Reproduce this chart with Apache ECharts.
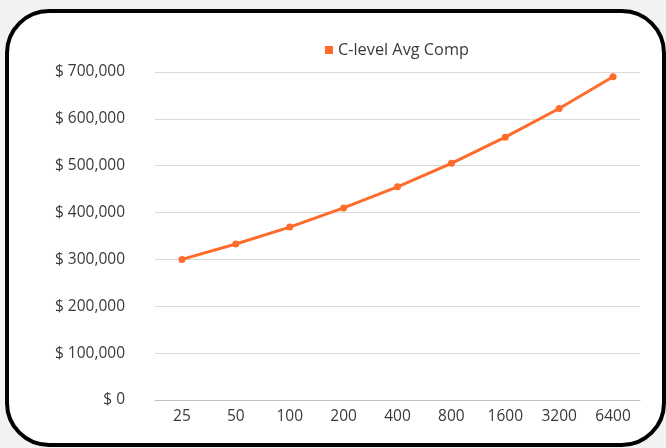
<!DOCTYPE html>
<html>
<head>
<meta charset="utf-8">
<script src="https://cdn.jsdelivr.net/npm/echarts@6/dist/echarts.min.js"></script>
<style>
  html, body { margin: 0; padding: 0; background: #f2f2f2; }
  #frame {
    position: absolute; left: 5px; top: 9px;
    width: 653px; height: 430px;
    border: 4px solid #000; border-radius: 44px;
    background: #fff; overflow: hidden;
  }
  #chart { position: absolute; left: -9px; top: -13px; width: 666px; height: 448px; }
</style>
</head>
<body>
<div id="frame"><div id="chart"></div></div>
<script>
// team sizes on the x axis
var sizes = ['25', '50', '100', '200', '400', '800', '1600', '3200', '6400'];
// average C-level compensation
var avgComp = [300000, 333000, 369000, 410000, 455000, 505000, 561000, 622000, 690000];

var myChart = echarts.init(document.getElementById('chart'));
var textColor = '#3a3a3a';
var option = {
  animation: false,
  textStyle: { fontFamily: 'Open Sans' },
  legend: {
    top: 37,
    left: 320,
    icon: 'rect',
    itemWidth: 8,
    itemHeight: 8,
    itemGap: 7,
    textStyle: { fontSize: 16.3, color: textColor, fontFamily: 'Open Sans' },
    data: ['C-level Avg Comp']
  },
  grid: { left: 155, right: 26, top: 72, bottom: 48 },
  xAxis: {
    type: 'category',
    data: sizes,
    axisLine: { lineStyle: { color: '#bfbfbf', width: 1 } },
    axisTick: { show: false },
    axisLabel: { color: textColor, fontSize: 15.5, margin: 9, fontFamily: 'Open Sans' }
  },
  yAxis: {
    type: 'value',
    min: 0,
    max: 700000,
    interval: 100000,
    axisLine: { show: false },
    axisTick: { show: false },
    splitLine: { lineStyle: { color: '#d9d9d9', width: 1 } },
    axisLabel: {
      color: textColor, fontSize: 15.5, margin: 30, fontFamily: 'Open Sans',
      formatter: function (v) { return '$ ' + v.toLocaleString('en-US'); }
    }
  },
  series: [
    {
      name: 'C-level Avg Comp',
      type: 'line',
      data: avgComp,
      color: '#ff6b2b',
      symbol: 'circle',
      symbolSize: 7,
      lineStyle: { width: 3, color: '#ff6b2b' },
      itemStyle: { color: '#ff6b2b' }
    }
  ]
};
option && myChart.setOption(option);
</script>
</body>
</html>
